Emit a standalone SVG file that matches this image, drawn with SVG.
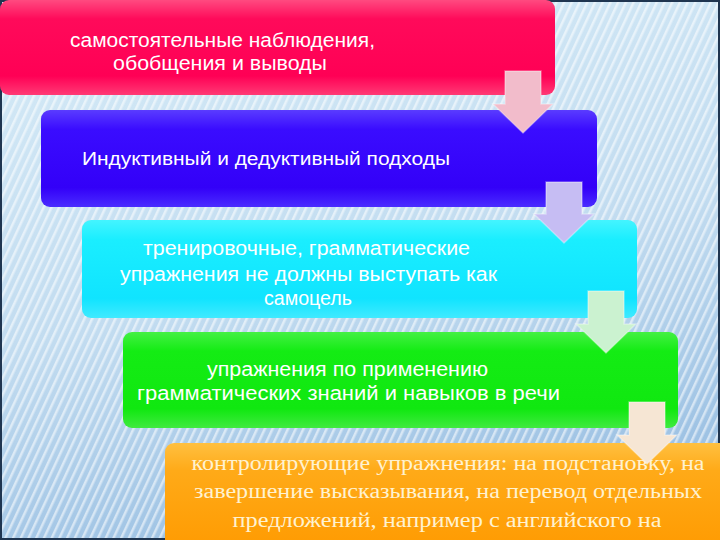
<svg xmlns="http://www.w3.org/2000/svg" width="720" height="540" viewBox="0 0 720 540">
<defs>
<linearGradient id="bg" x1="0" y1="0" x2="0.3" y2="1">
<stop offset="0" stop-color="#d6ebf7"/>
<stop offset="0.6" stop-color="#c2dcf0"/>
<stop offset="1" stop-color="#9fc3e4"/>
</linearGradient>
<pattern id="stripes" width="7" height="7" patternUnits="userSpaceOnUse" patternTransform="rotate(25)">
<rect x="0" y="0" width="2.5" height="7" fill="#ffffff" fill-opacity="0.55"/>
</pattern>
<linearGradient id="g1" x1="0" y1="0" x2="0" y2="1">
<stop offset="0" stop-color="#ff4a80"/>
<stop offset="0.2" stop-color="#ff0a5a"/>
<stop offset="0.8" stop-color="#ff0055"/>
<stop offset="1" stop-color="#ff3a75"/>
</linearGradient>
<linearGradient id="g2" x1="0" y1="0" x2="0" y2="1">
<stop offset="0" stop-color="#5a3cff"/>
<stop offset="0.2" stop-color="#3a0cff"/>
<stop offset="0.8" stop-color="#3300f8"/>
<stop offset="1" stop-color="#4a2cff"/>
</linearGradient>
<linearGradient id="g3" x1="0" y1="0" x2="0" y2="1">
<stop offset="0" stop-color="#44f4ff"/>
<stop offset="0.2" stop-color="#1aeeff"/>
<stop offset="0.8" stop-color="#10e4ff"/>
<stop offset="1" stop-color="#40eaff"/>
</linearGradient>
<linearGradient id="g4" x1="0" y1="0" x2="0" y2="1">
<stop offset="0" stop-color="#44f044"/>
<stop offset="0.2" stop-color="#14ec14"/>
<stop offset="0.8" stop-color="#10e810"/>
<stop offset="1" stop-color="#40ea40"/>
</linearGradient>
<linearGradient id="g5" x1="0" y1="0" x2="0" y2="1">
<stop offset="0" stop-color="#ffc040"/>
<stop offset="0.25" stop-color="#ffaa18"/>
<stop offset="1" stop-color="#ff9a00"/>
</linearGradient>
<style>
.sans{font-family:"Liberation Sans Narrow","Liberation Sans","DejaVu Sans",sans-serif;fill:#ffffff;font-size:20px;text-anchor:middle}
.reg{font-family:"Liberation Sans","DejaVu Sans",sans-serif;fill:#ffffff;font-size:18.5px;text-anchor:middle}
.serif{font-family:"Liberation Serif","DejaVu Serif",serif;fill:#fff2d0;font-size:20px;text-anchor:middle}
.arr{stroke:#ffffff;stroke-opacity:0.35;stroke-width:1.5;stroke-linejoin:miter}
</style>
</defs>
<rect x="0" y="0" width="720" height="540" fill="url(#bg)"/>
<rect x="0" y="0" width="720" height="540" fill="url(#stripes)"/>
<rect x="1" y="1" width="718" height="538" fill="none" stroke="#1f3550" stroke-width="2"/>

<g id="node1">
<rect x="0" y="0" width="555" height="95" rx="9" fill="url(#g1)"/>
<text class="sans" x="222.5" y="46.5" textLength="305" lengthAdjust="spacingAndGlyphs">самостоятельные наблюдения,</text>
<text class="sans" x="220" y="70" textLength="214" lengthAdjust="spacingAndGlyphs">обобщения и выводы</text>
</g>
<g id="node2">
<rect x="41" y="110" width="556" height="97" rx="9" fill="url(#g2)"/>
<text class="reg" x="266" y="165" textLength="368" lengthAdjust="spacingAndGlyphs">Индуктивный и дедуктивный подходы</text>
</g>
<g id="node3">
<rect x="82" y="220" width="555" height="98" rx="9" fill="url(#g3)"/>
<text class="sans" x="306.5" y="255" textLength="327" lengthAdjust="spacingAndGlyphs">тренировочные, грамматические</text>
<text class="sans" x="308.5" y="281" textLength="377" lengthAdjust="spacingAndGlyphs">упражнения не должны выступать как</text>
<text class="sans" x="308" y="305" textLength="88" lengthAdjust="spacingAndGlyphs">самоцель</text>
</g>
<g id="node4">
<rect x="123" y="332" width="555" height="96" rx="9" fill="url(#g4)"/>
<text class="sans" x="347.5" y="376" textLength="281" lengthAdjust="spacingAndGlyphs">упражнения по применению</text>
<text class="sans" x="348.5" y="400" textLength="423" lengthAdjust="spacingAndGlyphs">грамматических знаний и навыков в речи</text>
</g>
<g id="node5">
<rect x="165" y="443" width="565" height="110" rx="9" fill="url(#g5)"/>
<text class="serif" x="448" y="470" textLength="513" lengthAdjust="spacingAndGlyphs">контролирующие упражнения: на подстановку, на</text>
<text class="serif" x="448" y="498" textLength="508" lengthAdjust="spacingAndGlyphs">завершение высказывания, на перевод отдельных</text>
<text class="serif" x="447" y="527" textLength="429" lengthAdjust="spacingAndGlyphs">предложений, например с английского на</text>
</g>

<g id="connectors">
<polygon class="arr" fill="#f2bccb" points="505,71 541,71 541,104 553,104 523,133 493,104 505,104"/>
<polygon class="arr" fill="#c6bdf3" points="546,182 582,182 582,214 594,214 564,243 534,214 546,214"/>
<polygon class="arr" fill="#cbf2d0" points="588,291 624,291 624,324 636,324 606,353 576,324 588,324"/>
<polygon class="arr" fill="#f6e6d4" points="629,402 665,402 665,435 677,435 647,464 617,435 629,435"/>
</g>
</svg>
